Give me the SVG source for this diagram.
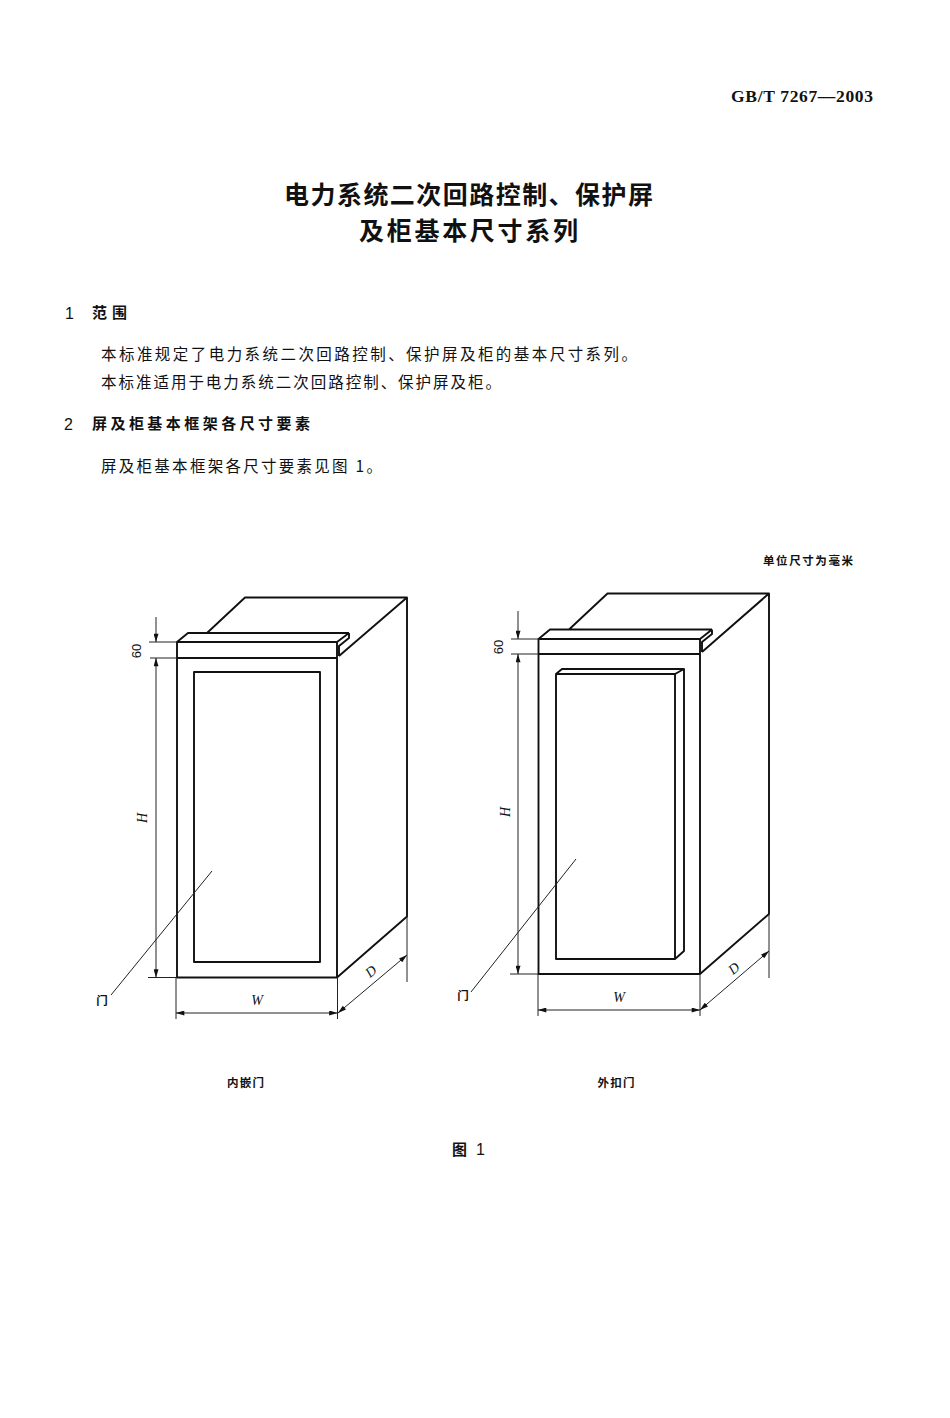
<svg xmlns="http://www.w3.org/2000/svg" width="950" height="1418" viewBox="0 0 950 1418">
<style>
text{font-family:"Noto Sans CJK SC","Noto Sans",sans-serif;fill:#111}
.t{font-size:25px;font-weight:700}
.b{font-size:15.5px;font-weight:400}
.h{font-size:15px;font-weight:700}
.n{font-family:"Liberation Sans","Noto Sans CJK SC",sans-serif;font-size:16px}
.s{font-size:11.5px;font-weight:700}
.d{font-family:"Liberation Sans",sans-serif;font-size:13px}
.i{font-family:"Liberation Serif",serif;font-size:14px;font-style:italic}
.std{font-family:"Liberation Serif",serif;font-size:17.5px;font-weight:700}
.o{fill:none;stroke:#111;stroke-width:1.9;stroke-linejoin:round}
.m{fill:none;stroke:#222;stroke-width:1}
.e{fill:none;stroke:#222;stroke-width:1;marker-end:url(#ar)}
.a{fill:none;stroke:#222;stroke-width:1;marker-start:url(#ar);marker-end:url(#ar)}
</style>
<defs><marker id="ar" viewBox="0 0 10 6" refX="10" refY="3" markerWidth="11" markerHeight="5" markerUnits="userSpaceOnUse" orient="auto-start-reverse"><path d="M0 0L10 3L0 6Z" fill="#111"/></marker></defs>
<rect width="950" height="1418" fill="#fff"/>
<text class="std" x="731" y="102" textLength="142">GB/T 7267—2003</text>
<text class="t" x="284" y="204" textLength="369">电力系统二次回路控制、保护屏</text>
<text class="t" x="359" y="240" textLength="219">及柜基本尺寸系列</text>
<text class="n" x="65" y="319">1</text>
<text class="h" x="92" y="318" textLength="35">范围</text>
<text class="b" x="101" y="360" textLength="536">本标准规定了电力系统二次回路控制、保护屏及柜的基本尺寸系列。</text>
<text class="b" x="101" y="388" textLength="400">本标准适用于电力系统二次回路控制、保护屏及柜。</text>
<text class="n" x="64" y="430">2</text>
<text class="h" x="92" y="429" textLength="218">屏及柜基本框架各尺寸要素</text>
<text class="b" x="101" y="472" textLength="281">屏及柜基本框架各尺寸要素见图 1。</text>
<text class="s" x="763" y="565" textLength="90">单位尺寸为毫米</text>
<g id="cabinet-left">
<path class="o" d="M177 642H337V977.5H177ZM177 658H337M194 672H320V962H194ZM177 642L188 633H349M207 633L245 597.5H407V916.5L337 977.5M349 633V638L339 646V656M337 642L349 633M339 656L407 597.5"/>
</g>
<g id="cabinet-right">
<path class="o" d="M538.5 639H700V974H538.5ZM538.5 654H700M556 674H675V959H556ZM538.5 639L550 629.5H712M569 629.5L607.5 593.5H769V914L700 974M712 629.5V634L702 642V652M700 639L712 629.5M702 652L769 593.5M556 674L562 669H684V951L675 959M675 674L684 669"/>
</g>
<g id="connectors">
<path class="m" d="M149 642H177M150 658H177M148 977.5H177M176 977V1019M337.5 977V1019M407 916V982"/>
<path class="e" d="M156 617V642"/>
<path class="a" d="M156 658V977.5"/>
<path class="a" d="M176 1013H337.5"/>
<path class="a" d="M338 1013L407 955"/>
<path class="m" d="M111 995L212 871"/>
<path class="m" d="M511 639H538M511 654H538M510 974H538M538 974V1016M700 974V1016M769 914V978"/>
<path class="e" d="M518 611V639"/>
<path class="a" d="M518 654V974"/>
<path class="a" d="M538 1010H700"/>
<path class="a" d="M700 1010L769 951"/>
<path class="m" d="M471 992L576 859"/>
</g>
<g id="labels">
<text class="d" transform="translate(141 651) rotate(-90)" text-anchor="middle">60</text>
<text class="i" transform="translate(147 818) rotate(-90)" text-anchor="middle">H</text>
<text class="i" x="257" y="1005" text-anchor="middle">W</text>
<text class="i" transform="translate(374 975) rotate(-40)" text-anchor="middle">D</text>
<text class="s" x="102" y="1005" text-anchor="middle">门</text>
<text class="d" transform="translate(503 647) rotate(-90)" text-anchor="middle">60</text>
<text class="i" transform="translate(510 812) rotate(-90)" text-anchor="middle">H</text>
<text class="i" x="619" y="1002" text-anchor="middle">W</text>
<text class="i" transform="translate(737 972) rotate(-40)" text-anchor="middle">D</text>
<text class="s" x="463" y="1000" text-anchor="middle">门</text>
<text class="s" x="245.500" y="1087" text-anchor="middle" textLength="37">内嵌门</text>
<text class="s" x="616" y="1087" text-anchor="middle" textLength="37">外扣门</text>
<text class="h" x="452" y="1155">图</text>
<text class="n" x="476" y="1155">1</text>
</g>
</svg>
